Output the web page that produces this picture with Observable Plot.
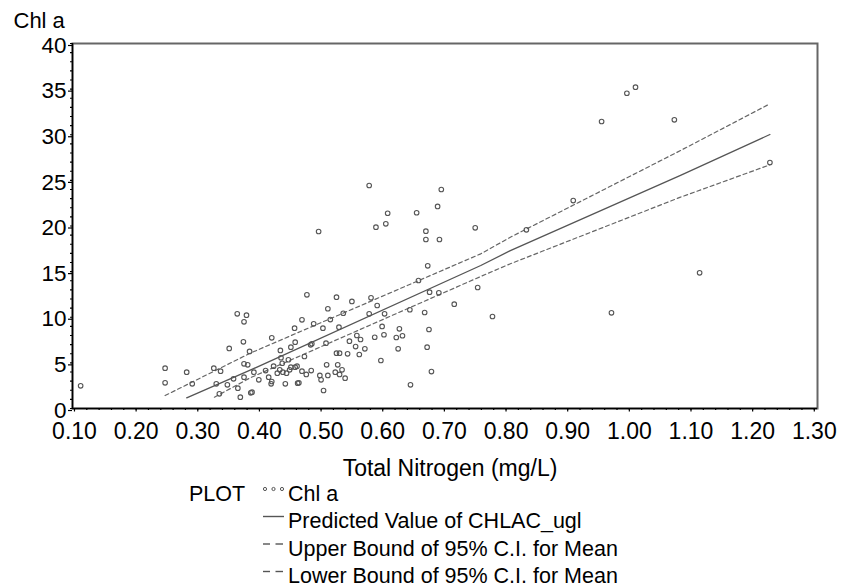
<!DOCTYPE html>
<html>
<head>
<meta charset="utf-8">
<script src="https://cdn.jsdelivr.net/npm/d3@7"></script>
<script src="https://cdn.jsdelivr.net/npm/@observablehq/plot@0.6"></script>
<style>
  body { margin: 0; background: #fff; }
  #wrap { position: relative; width: 841px; height: 588px; overflow: hidden; font-family: "Liberation Sans", Arial, sans-serif; }
  #wrap svg { position: absolute; left: 0; top: 0; }
</style>
</head>
<body>
<div id="wrap"></div>
<script>
// ---- Observed points: Total Nitrogen (mg/L) vs Chl a ----
const nitrogen = [
  0.110, 0.247, 0.247, 0.282, 0.291, 0.326, 0.337, 0.330, 0.335, 0.348,
  0.358, 0.364, 0.379, 0.375, 0.351, 0.374, 0.384, 0.365, 0.369, 0.386,
  0.375, 0.375, 0.381, 0.391, 0.399, 0.420, 0.410, 0.423, 0.415, 0.420,
  0.434, 0.435, 0.433, 0.444, 0.442, 0.447, 0.451, 0.457, 0.458, 0.449,
  0.451, 0.461, 0.462,
  0.578, 0.695, 0.689, 0.608, 0.655, 0.605, 0.589, 0.496, 0.670, 0.670,
  0.692, 0.750, 0.673, 0.658, 0.754, 0.691, 0.676, 0.716, 0.778, 0.477,
  0.525, 0.581, 0.550, 0.511, 0.591, 0.536, 0.578, 0.603, 0.644, 0.668,
  0.469, 0.488, 0.515, 0.503, 0.529, 0.599, 0.627, 0.675, 0.558, 0.587,
  0.602, 0.632, 0.622, 0.483, 0.485, 0.508, 0.546, 0.564, 0.556, 0.571,
  0.625, 0.672, 0.473, 0.525, 0.530, 0.543, 0.562, 0.597, 0.437, 0.458,
  0.429, 0.438, 0.469, 0.476, 0.484, 0.509, 0.527, 0.523, 0.534, 0.530,
  0.539, 0.498, 0.500, 0.511, 0.419, 0.464, 0.504, 0.679, 0.645, 0.388,
  0.909, 0.833, 0.971,
  1.010, 0.996, 0.955, 1.073, 1.228, 1.114
];
const chla = [
  2.49, 4.42, 2.81, 3.98, 2.70, 4.42, 4.09, 2.70, 1.61, 2.59,
  3.25, 10.38, 10.23, 9.50, 6.58, 7.31, 6.25, 2.23, 1.24, 1.72,
  3.43, 4.90, 4.79, 3.98, 3.14, 7.75, 4.16, 4.64, 3.43, 2.96,
  6.36, 5.56, 4.24, 3.87, 2.70, 5.34, 6.72, 8.80, 7.27, 4.24,
  4.53, 4.64, 2.77,
  24.44, 24.00, 22.14, 21.40, 21.45, 20.24, 19.87, 19.40, 19.43, 18.52,
  18.52, 19.80, 15.64, 14.03, 13.26, 12.68, 12.75, 11.43, 10.08, 12.46,
  12.20, 12.13, 11.73, 10.93, 11.29, 10.44, 10.38, 10.38, 10.82, 10.52,
  9.72, 9.28, 9.75, 8.80, 8.91, 8.99, 8.73, 8.66, 8.00, 7.81,
  8.08, 7.97, 7.78, 6.98, 7.09, 7.16, 7.38, 7.56, 6.79, 6.54,
  6.54, 6.72, 5.70, 6.06, 6.06, 5.99, 5.92, 5.26, 4.96, 4.53,
  3.87, 3.98, 4.09, 3.73, 4.16, 4.79, 4.79, 3.98, 4.24, 3.73,
  3.32, 3.62, 3.14, 3.62, 2.70, 2.81, 1.97, 4.05, 2.59, 1.79,
  22.79, 19.58, 10.49,
  35.21, 34.55, 31.45, 31.64, 26.96, 14.87
];

// ---- Fitted line and 95% C.I. for mean ----
const predX  = [0.282, 0.385, 0.759, 0.807, 1.083, 1.228];
const predY  = [1.17, 4.20, 15.67, 17.30, 25.55, 30.03];
const upperX = [0.247, 0.385, 0.759, 0.807, 1.083, 1.228];
const upperY = [1.42, 6.06, 16.95, 18.77, 28.27, 33.39];
const lowerX = [0.327, 0.385, 0.759, 0.807, 1.083, 1.228];
const lowerY = [1.24, 3.36, 14.47, 15.86, 23.16, 26.70];

// ---- Axes / labels ----
const xTicks = [0.10, 0.20, 0.30, 0.40, 0.50, 0.60, 0.70, 0.80, 0.90, 1.00, 1.10, 1.20, 1.30];
const yTicks = [0, 5, 10, 15, 20, 25, 30, 35, 40];
const xTitle = "Total Nitrogen (mg/L)";
const yTitle = "Chl a";
const legendHead = "PLOT";
const legendLabels = ["Chl a", "Predicted Value of CHLAC_ugl", "Upper Bound of 95% C.I. for Mean", "Lower Bound of 95% C.I. for Mean"];

// ---- Build tables ----
const points = nitrogen.map((x, i) => ({x, y: chla[i]}));
const pred = predX.map((x, i) => ({x, y: predY[i]}));
const upper = upperX.map((x, i) => ({x, y: upperY[i]}));
const lower = lowerX.map((x, i) => ({x, y: lowerY[i]}));
const xMinor = d3.range(10, 131, 2).map(v => v / 100);
const yMinor = d3.range(0, 41, 1);

const H = 480;
const font = "Liberation Sans, Arial, sans-serif";
const chart = Plot.plot({
  width: 841,
  height: H,
  marginLeft: 72,
  marginRight: 24,
  marginTop: 43,
  marginBottom: H - 408,
  x: {domain: [0.0968, 1.3052]},
  y: {domain: [0, 40]},
  style: {fontFamily: font, color: "#000", background: "#fff", overflow: "visible"},
  marks: [
    Plot.frame({stroke: "#666", strokeWidth: 2}),
    Plot.line(upper, {x: "x", y: "y", stroke: "#666", strokeWidth: 1.2, strokeDasharray: "4,3"}),
    Plot.line(lower, {x: "x", y: "y", stroke: "#666", strokeWidth: 1.2, strokeDasharray: "4,3"}),
    Plot.line(pred, {x: "x", y: "y", stroke: "#555", strokeWidth: 1.3}),
    Plot.dot(points, {x: "x", y: "y", r: 2.3, stroke: "#555", strokeWidth: 1.1, fill: "none"}),
    Plot.axisY({ticks: yMinor, tickSize: 2, tickFormat: () => "", label: null, strokeWidth: 1.2}),
    Plot.axisY({ticks: yTicks, tickSize: 4, tickPadding: 2, fontSize: 22.5, dy: 2, label: null, strokeWidth: 1.2}),
    Plot.axisX({ticks: xMinor, tickSize: 2, tickFormat: () => "", label: null, strokeWidth: 1.2}),
    Plot.axisX({ticks: xTicks, tickSize: 3.5, tickPadding: 11, fontSize: 23, tickFormat: d3.format(".2f"), label: null, strokeWidth: 1.2}),
    Plot.ruleX([0.0968], {stroke: "#000", strokeWidth: 1.5}),
    Plot.ruleY([0], {stroke: "#000", strokeWidth: 1.5}),
    Plot.text([xTitle], {frameAnchor: "bottom", text: d => d, lineAnchor: "top", dx: 5, dy: 51, fontSize: 23}),
    Plot.text([yTitle], {frameAnchor: "top-left", text: d => d, textAnchor: "start", lineAnchor: "top", dx: -59, dy: -31, fontSize: 22})
  ]
});
const wrap = document.getElementById("wrap");
wrap.appendChild(chart);

// ---- Legend (below the plot) ----
const leg = d3.select(wrap).append("svg")
  .attr("width", 841).attr("height", 588)
  .style("pointer-events", "none")
  .attr("font-family", font);
const rowsBase = [500.5, 528, 555.5, 583];
leg.append("text").attr("x", 189).attr("y", rowsBase[0]).attr("font-size", 21.5).text(legendHead);
legendLabels.forEach((t, i) => {
  leg.append("text").attr("x", 288).attr("y", rowsBase[i]).attr("font-size", 21.5).text(t);
});
[265, 273.5, 282].forEach(cx => leg.append("circle").attr("cx", cx).attr("cy", 489).attr("r", 1.6)
  .attr("fill", "none").attr("stroke", "#555").attr("stroke-width", 1));
leg.append("line").attr("x1", 263).attr("x2", 284).attr("y1", 516.5).attr("y2", 516.5)
  .attr("stroke", "#555").attr("stroke-width", 1.4);
[544, 571.5].forEach(y => {
  leg.append("line").attr("x1", 263).attr("x2", 270).attr("y1", y).attr("y2", y).attr("stroke", "#555").attr("stroke-width", 1.4);
  leg.append("line").attr("x1", 275.5).attr("x2", 283).attr("y1", y).attr("y2", y).attr("stroke", "#555").attr("stroke-width", 1.4);
});
</script>
</body>
</html>
